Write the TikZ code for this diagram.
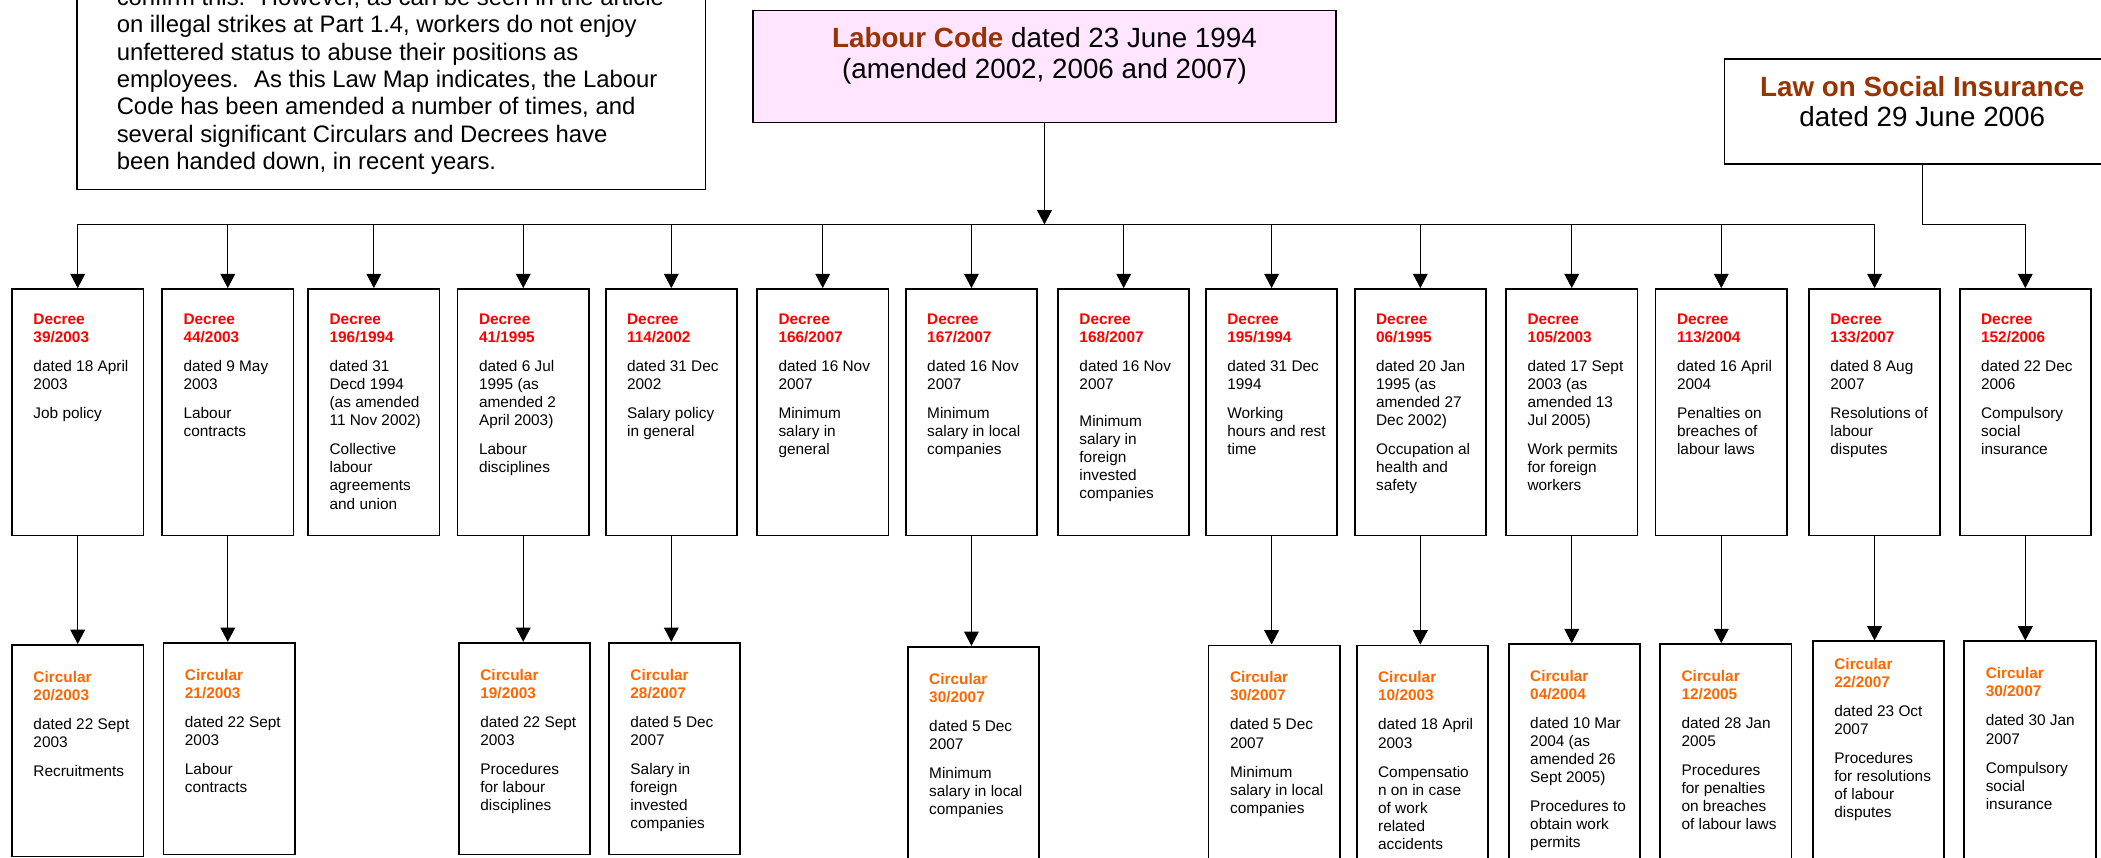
\documentclass[tikz,border=0pt]{standalone}
\usepackage{fontspec}
\setmainfont{Liberation Sans}
\usetikzlibrary{arrows.meta,positioning}
\definecolor{lawbrown}{HTML}{993300}
\definecolor{decred}{HTML}{FF0000}
\definecolor{circorange}{HTML}{FF6600}
\definecolor{codepink}{HTML}{FFE5FF}
\newlength{\pgap}\setlength{\pgap}{7pt}
% box contents: number, then dates and subject
\newcommand{\dtext}[2]{\parbox[t][4.4cm][t]{2.7cm}{\raggedright\leftskip=0.36cm%
  \fontsize{9.8}{11.5}\selectfont
  \textcolor{decred}{\bfseries Decree\\#1}\\[\pgap]#2}}
\newcommand{\ctext}[3][4.6cm]{\parbox[t][#1][t]{2.7cm}{\raggedright\leftskip=0.36cm%
  \fontsize{9.8}{11.5}\selectfont
  \textcolor{circorange}{\bfseries Circular\\#2}\\[\pgap]#3}}

\begin{document}
\begin{tikzpicture}[
  x=0.03cm, y=-0.03cm,
  lawbox/.style={draw,line width=0.8pt,anchor=north,inner xsep=0.525cm,inner ysep=0.38cm},
  notebox/.style={draw,line width=0.8pt,anchor=south west,inner xsep=0.3cm,inner ysep=0.34cm},
  dec/.style={draw,line width=1.1pt,anchor=north,inner xsep=0.12cm,inner ysep=0.56cm},
  circ/.style={draw,line width=1.1pt,anchor=north,inner xsep=0.12cm,inner ysep=0.59cm},
  arr/.style={-{Triangle[length=0.32cm,width=0.33cm]},line width=0.7pt},
  bus/.style={line width=0.7pt}
]
\useasboundingbox (0,0) rectangle (1568,640);
\clip (0,0) rectangle (1568,640);
% --- top: note and the two laws ---
\node[notebox] (intro) at (57,142) {\parbox{13.47cm}{\raggedright\leftskip=0.59cm%
  \fontsize{15.2}{17.4}\selectfont
  confirm this.~ However, as can be seen in the article\\
  on illegal strikes at Part 1.4, workers do not enjoy\\
  unfettered status to abuse their positions as\\
  employees.~ As this Law Map indicates, the Labour\\
  Code has been amended a number of times, and\\
  several significant Circulars and Decrees have\\
  been handed down, in recent years.}};
\node[lawbox,fill=codepink] (lc) at (779.5,7.5) {\parbox[t][1.745cm][t]{12cm}{\centering
  \fontsize{17.7}{19.6}\selectfont
  \textcolor{lawbrown}{\bfseries Labour Code} dated 23 June 1994\\(amended 2002, 2006 and 2007)}};
\node[lawbox] (lsi) at (1434.6,43.5) {\parbox[t][1.595cm][t]{7.81cm}{\centering
  \fontsize{17.7}{19.6}\selectfont
  \textcolor{lawbrown}{\bfseries Law on Social Insurance}\\dated 29 June 2006}};
\coordinate (hub) at (779.5,167.5);
% --- row 1: decrees ---
\node[dec] (d1)  at (58,215)     {\dtext{39/2003}{dated 18 April\\2003\\[\pgap]Job policy}};
\node[dec] (d2)  at (170,215)    {\dtext{44/2003}{dated 9 May\\2003\\[\pgap]Labour\\contracts}};
\node[dec] (d3)  at (279,215)    {\dtext{196/1994}{dated 31\\Decd 1994\\(as amended\\11 Nov 2002)\\[\pgap]Collective\\labour\\agreements\\and union}};
\node[dec] (d4)  at (390.5,215)  {\dtext{41/1995}{dated 6 Jul\\1995 (as\\amended 2\\April 2003)\\[\pgap]Labour\\disciplines}};
\node[dec] (d5)  at (501,215)    {\dtext{114/2002}{dated 31 Dec\\2002\\[\pgap]Salary policy\\in general}};
\node[dec] (d6)  at (614,215)    {\dtext{166/2007}{dated 16 Nov\\2007\\[\pgap]Minimum\\salary in\\general}};
\node[dec] (d7)  at (725,215)    {\dtext{167/2007}{dated 16 Nov\\2007\\[\pgap]Minimum\\salary in local\\companies}};
\node[dec] (d8)  at (838.6,215)  {\dtext{168/2007}{dated 16 Nov\\2007\\[12pt]Minimum\\salary in\\foreign\\invested\\companies}};
\node[dec] (d9)  at (949,215)    {\dtext{195/1994}{dated 31 Dec\\1994\\[\pgap]Working\\hours and rest\\time}};
\node[dec] (d10) at (1060,215)   {\dtext{06/1995}{dated 20 Jan\\1995 (as\\amended 27\\Dec 2002)\\[\pgap]Occupation al\\health and\\safety}};
\node[dec] (d11) at (1173,215)   {\dtext{105/2003}{dated 17 Sept\\2003 (as\\amended 13\\Jul 2005)\\[\pgap]Work permits\\for foreign\\workers}};
\node[dec] (d12) at (1284.6,215) {\dtext{113/2004}{dated 16 April\\2004\\[\pgap]Penalties on\\breaches of\\labour laws}};
\node[dec] (d13) at (1399,215)   {\dtext{133/2007}{dated 8 Aug\\2007\\[\pgap]Resolutions of\\labour\\disputes}};
\node[dec] (d14) at (1511.5,215) {\dtext{152/2006}{dated 22 Dec\\2006\\[\pgap]Compulsory\\social\\insurance}};
% laws -> decrees
\draw[bus] (d1.north |- hub) -- (d13.north |- hub);
\draw[arr] (lc) -- (hub);
\foreach \n in {1,...,13}
  \draw[arr] (d\n.north |- hub) -- (d\n);
\draw[arr] (lsi.south) |- (d14.north |- hub) -- (d14.north);
% --- row 2: circulars ---
\node[circ] (c1)  at (58,480.6)  {\ctext[3.56cm]{20/2003}{dated 22 Sept\\2003\\[\pgap]Recruitments}};
\node[circ] (c2)  at (171,479)   {\ctext[3.56cm]{21/2003}{dated 22 Sept\\2003\\[\pgap]Labour\\contracts}};
\node[circ] (c4)  at (391.5,479) {\ctext[3.56cm]{19/2003}{dated 22 Sept\\2003\\[\pgap]Procedures\\for labour\\disciplines}};
\node[circ] (c5)  at (503.5,479) {\ctext[3.56cm]{28/2007}{dated 5 Dec\\2007\\[\pgap]Salary in\\foreign\\invested\\companies}};
\node[circ] (c7)  at (726.5,482) {\ctext{30/2007}{dated 5 Dec\\2007\\[\pgap]Minimum\\salary in local\\companies}};
\node[circ] (c9)  at (951,481)   {\ctext{30/2007}{dated 5 Dec\\2007\\[\pgap]Minimum\\salary in local\\companies}};
\node[circ] (c10) at (1061.5,481) {\ctext{10/2003}{dated 18 April\\2003\\[\pgap]Compensatio\\n on in case\\of work\\related\\accidents}};
\node[circ] (c11) at (1175,480)  {\ctext{04/2004}{dated 10 Mar\\2004 (as\\amended 26\\Sept 2005)\\[\pgap]Procedures to\\obtain work\\permits}};
\node[circ] (c12) at (1288,480)  {\ctext{12/2005}{dated 28 Jan\\2005\\[\pgap]Procedures\\for penalties\\on breaches\\of labour laws}};
\node[circ,inner ysep=0.38cm] (c13) at (1402,478) {\ctext{22/2007}{dated 23 Oct\\2007\\[\pgap]Procedures\\for resolutions\\of labour\\disputes}};
\node[circ] (c14) at (1515,478)  {\ctext{30/2007}{dated 30 Jan\\2007\\[\pgap]Compulsory\\social\\insurance}};
% decrees -> circulars
\foreach \n in {1,2,4,5,7,9,10,11,12,13,14}
  \draw[arr] (d\n) -- (d\n.south |- c\n.north);
\end{tikzpicture}
\end{document}
